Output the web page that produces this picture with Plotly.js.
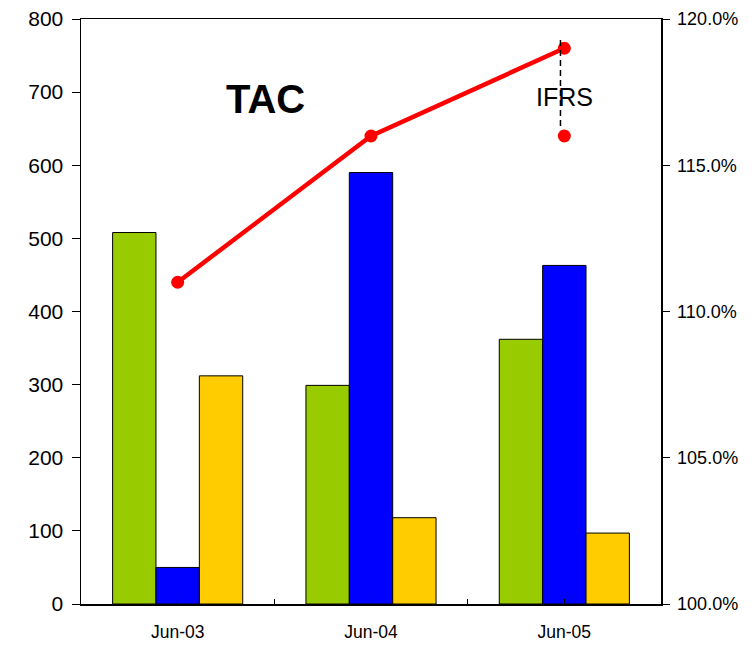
<!DOCTYPE html>
<html>
<head>
<meta charset="utf-8">
<script src="https://cdn.plot.ly/plotly-3.0.1.min.js"></script>
<style>html,body{margin:0;padding:0;background:#fff;}#chart{width:756px;height:645px;}</style>
</head>
<body>
<div id="chart"></div>
<script>
var categories = ['Jun-03', 'Jun-04', 'Jun-05'];
var greenValues = [508, 299, 362];
var blueValues = [50, 590, 463];
var yellowValues = [312, 118, 97];
var ratioValues = [1.11, 1.16, 1.19];
var ifrsCategory = 'Jun-05';
var ifrsValue = 1.16;
var leftTicks = [0, 100, 200, 300, 400, 500, 600, 700, 800];
var rightTicks = [1.00, 1.05, 1.10, 1.15, 1.20];

var xIdx = categories.map(function (c, i) { return i; });
var ifrsIdx = categories.indexOf(ifrsCategory);
var font = 'Liberation Sans, Arial, sans-serif';

function barTrace(vals, color) {
  return {
    type: 'bar', x: xIdx, y: vals,
    marker: {color: color, line: {color: '#000', width: 1}},
    hoverinfo: 'y', showlegend: false
  };
}

var traces = [
  barTrace(greenValues, '#99CC00'),
  barTrace(blueValues, '#0000FF'),
  barTrace(yellowValues, '#FFCC00'),
  {
    type: 'scatter', mode: 'lines+markers', x: xIdx, y: ratioValues, yaxis: 'y2',
    line: {color: '#FF0000', width: 4.5}, marker: {color: '#FF0000', size: 13},
    showlegend: false
  },
  {
    type: 'scatter', mode: 'markers', x: [ifrsIdx], y: [ifrsValue], yaxis: 'y2',
    marker: {color: '#FF0000', size: 13}, showlegend: false
  }
];

var layout = {
  width: 756, height: 645,
  margin: {l: 81, r: 95, t: 19, b: 41},
  paper_bgcolor: '#fff', plot_bgcolor: '#fff',
  font: {family: font, color: '#000'},
  barmode: 'group', bargap: 0.327, bargroupgap: 0,
  showlegend: false,
  xaxis: {
    range: [-0.5, categories.length - 0.5],
    tickmode: 'array', tickvals: xIdx, ticktext: categories,
    ticks: 'inside', ticklen: 5, tickwidth: 1, tickcolor: '#000',
    minor: {tickmode: 'array', tickvals: [0.5, 1.5], ticks: 'inside', ticklen: 5, tickcolor: '#000', showgrid: false},
    showline: true, linecolor: '#000', linewidth: 1.5, mirror: true,
    showgrid: false, zeroline: false,
    tickfont: {size: 17.5, family: font}, ticklabelstandoff: 11
  },
  yaxis: {
    range: [0, 800], tickmode: 'array', tickvals: leftTicks,
    ticks: 'outside', ticklen: 8, tickcolor: '#000', tickwidth: 1,
    showline: true, linecolor: '#000', linewidth: 1.5,
    showgrid: false, zeroline: false,
    tickfont: {size: 21, family: font}, ticklabelstandoff: 4
  },
  yaxis2: {
    overlaying: 'y', side: 'right',
    range: [1.0, 1.2], tickmode: 'array', tickvals: rightTicks, tickformat: '.1%',
    ticks: 'outside', ticklen: 7, tickcolor: '#000', tickwidth: 1,
    showline: true, linecolor: '#000', linewidth: 1.5,
    showgrid: false, zeroline: false,
    tickfont: {size: 18, family: font}, ticklabelstandoff: 4
  },
  shapes: [
    {type: 'line', xref: 'x', yref: 'y2', x0: ifrsIdx - 0.02, x1: ifrsIdx - 0.02, y0: 1.1928, y1: 1.162,
     line: {color: '#000', width: 1.5, dash: '6px,4px'}}
  ],
  annotations: [
    {text: '<b>TAC</b>', xref: 'x', yref: 'y', x: 0.452, y: 690, showarrow: false,
     font: {size: 40, family: font, color: '#000'}},
    {text: 'IFRS', xref: 'x', yref: 'y2', x: ifrsIdx, y: 1.1733, showarrow: false,
     font: {size: 25, family: font, color: '#000'}}
  ]
};

Plotly.newPlot('chart', traces, layout, {displayModeBar: false, staticPlot: true});
</script>
</body>
</html>
